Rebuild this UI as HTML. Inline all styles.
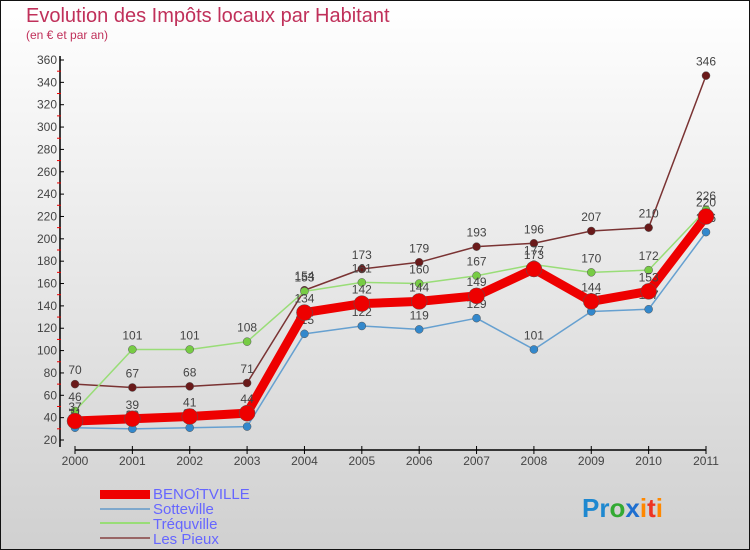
<!DOCTYPE html>
<html><head><meta charset="utf-8"><style>
body{margin:0;width:750px;height:550px;overflow:hidden;font-family:"Liberation Sans",sans-serif}
svg{display:block}
</style></head><body>
<svg width="750" height="550" xmlns="http://www.w3.org/2000/svg">
<defs><linearGradient id="bg" x1="0" y1="0" x2="0" y2="1"><stop offset="0" stop-color="#ffffff"/><stop offset="1" stop-color="#d0d0d0"/></linearGradient></defs>
<rect x="0.5" y="0.5" width="749" height="549" fill="url(#bg)" stroke="#111"/>
<text x="26" y="22" font-size="20" fill="#c0305a">Evolution des Impôts locaux par Habitant</text>
<text x="26" y="39" font-size="12" fill="#c0305a">(en € et par an)</text>
<g id="axes"></g>
<g id="series"></g>
<g id="legend">
<rect x="100" y="490" width="50" height="9" fill="#e00"/>
<text x="153" y="499" font-size="15" fill="#6666ff">BENOîTVILLE</text>
<line x1="100" y1="509" x2="150" y2="509" stroke="#7fa8cc" stroke-width="2"/>
<text x="153" y="514" font-size="15" fill="#6666ff">Sotteville</text>
<line x1="100" y1="523" x2="150" y2="523" stroke="#99dd77" stroke-width="2"/>
<text x="153" y="529" font-size="15" fill="#6666ff">Tréquville</text>
<line x1="100" y1="538" x2="150" y2="538" stroke="#996666" stroke-width="2"/>
<text x="153" y="544" font-size="15" fill="#6666ff">Les Pieux</text>
</g>
<g font-size="26" font-weight="bold">
<text x="582" y="517"><tspan fill="#1e88d0">Pr</tspan><tspan fill="#33aa33">o</tspan><tspan fill="#1e6fd0">x</tspan><tspan fill="#ff8800">i</tspan><tspan fill="#ee3322">t</tspan><tspan fill="#ff8800">i</tspan></text>
</g>
</svg>
<script>
const years=["2000","2001","2002","2003","2004","2005","2006","2007","2008","2009","2010","2011"];
const yTicks=[20,40,60,80,100,120,140,160,180,200,220,240,260,280,300,320,340,360];
const benoitville=[37,39,41,44,134,142,144,149,173,144,153,220];
const sotteville=[31,30,31,32,115,122,119,129,101,135,137,206];
const trequville=[46,101,101,108,153,161,160,167,177,170,172,226];
const lesPieux=[70,67,68,71,154,173,179,193,196,207,210,346];
const NS="http://www.w3.org/2000/svg";
const X=i=>75+i*(631/11);
const Y=v=>440-(v-20)*(380/340);
function mk(tag,attrs,parent){const e=document.createElementNS(NS,tag);for(const k in attrs)e.setAttribute(k,attrs[k]);parent.appendChild(e);return e;}
const ax=document.getElementById('axes');
let l=mk('line',{x1:60,y1:56,x2:60,y2:447,stroke:'#000','stroke-width':1.5},ax);


l=mk('line',{x1:75,y1:450,x2:706,y2:450,stroke:'#000','stroke-width':1.5},ax);


yTicks.forEach(v=>{
  mk('line',{x1:60,y1:Y(v),x2:64,y2:Y(v),stroke:'#000'},ax);
  if(v<360) mk('line',{x1:57,y1:Y(v+10),x2:61,y2:Y(v+10),stroke:'#e00'},ax);
  const t=mk('text',{x:57,y:Y(v)+4,'text-anchor':'end','font-size':12,fill:'#444'},ax);
  t.textContent=v;
  
  
});
years.forEach((y,i)=>{
  mk('line',{x1:X(i),y1:446,x2:X(i),y2:454,stroke:'#000'},ax);
  const t=mk('text',{x:X(i),y:465,'text-anchor':'middle','font-size':12,fill:'#444'},ax);
  t.textContent=y;
  
  
});
const sg=document.getElementById('series');
function series(vals,color,dot,w,r,name){
  const g=mk('g',{},sg);
  
  
  const p=mk('polyline',{points:vals.map((v,i)=>X(i)+','+Y(v)).join(' '),fill:'none',stroke:color,'stroke-width':w,'stroke-linejoin':'round'},g);
  
  
  vals.forEach((v,i)=>{
    const c=mk('circle',{cx:X(i),cy:Y(v),r:r,fill:dot,stroke:'#555','stroke-width':0.5},g);
    
    
    const t=mk('text',{x:X(i),y:Y(v)-10,'text-anchor':'middle','font-size':12,fill:'#444'},g);
    t.textContent=v;
    
    
  });
}
series(lesPieux,'#7a3333','#6a1a1a',1.5,4,'les-pieux');
series(trequville,'#99dd77','#77cc44',1.5,4,'trequville');
series(sotteville,'#66a0d0','#3388cc',1.5,4,'sotteville');
series(benoitville,'#ee0000','#ee0000',9,8,'benoitville');
</script>
</body></html>
